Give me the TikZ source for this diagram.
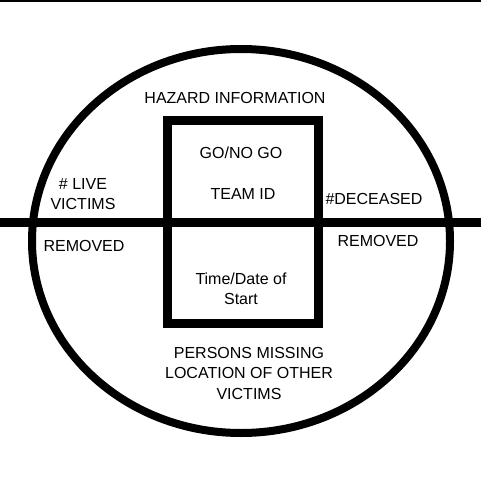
\documentclass[tikz,border=0pt]{standalone}
\usepackage{fontspec}
\setmainfont{Liberation Sans}
\usetikzlibrary{shapes.geometric}
\begin{document}
\begin{tikzpicture}[x=1pt,y=-1pt,
  lbl/.style={font=\fontsize{16}{20.5}\selectfont, inner sep=0pt, align=center, text=black},
  thick line/.style={line width=9pt, black}]
\useasboundingbox (0,0) rectangle (481,481);
\fill[white] (0,0) rectangle (481,481);
% top border line
\draw[line width=2.5pt] (0,1.2) -- (481,1.2);
% ellipse
\node[draw, line width=8pt, shape=ellipse, minimum width=418pt, minimum height=384pt, inner sep=0pt] (oval) at (241,241) {};
% rectangle
\draw[thick line] (167,121) rectangle (318,323);
% horizontal line
\coordinate (hl) at (0,222);
\coordinate (hr) at (481,222);
\draw[thick line] (hl) -- (hr);
% labels
\node[lbl] (haz) at (235,98) {HAZARD INFORMATION};
\node[lbl] (go) at (241,153) {GO/NO GO};
\node[lbl] (team) at (243,194) {TEAM ID};
\node[lbl] (time) at (241,289) {Time/Date of\\Start};
\node[lbl] (live) at (83,194) {\# LIVE\\VICTIMS};
\node[lbl] (reml) at (84,246) {REMOVED};
\node[lbl] (dec) at (374,199) {\#DECEASED};
\node[lbl] (remr) at (378,241) {REMOVED};
\node[lbl] (miss) at (249,373) {PERSONS MISSING\\LOCATION OF OTHER\\VICTIMS};
\end{tikzpicture}
\end{document}
